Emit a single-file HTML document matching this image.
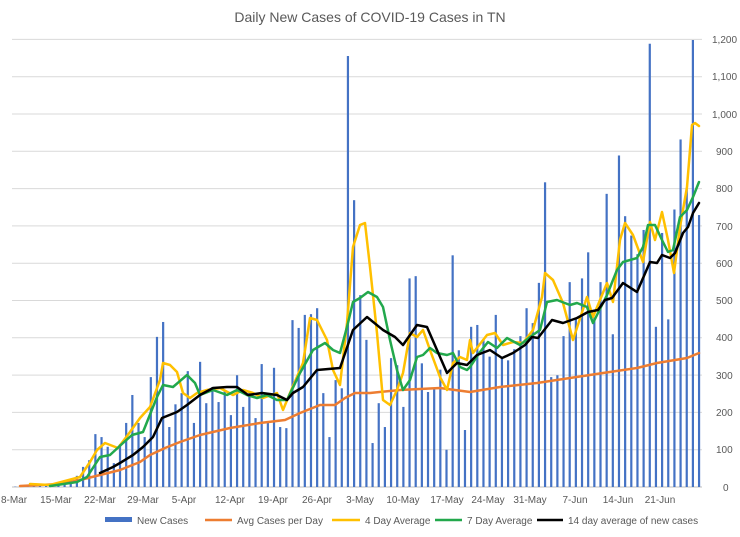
<!DOCTYPE html>
<html><head><meta charset="utf-8"><style>
body{margin:0;background:#fff;}
svg{display:block;font-family:"Liberation Sans",sans-serif;}
</style></head><body>
<svg id="c" width="740" height="537" viewBox="0 0 740 537" xmlns="http://www.w3.org/2000/svg">
<rect width="740" height="537" fill="#fff"/>
<text x="370" y="22" text-anchor="middle" font-size="14" fill="#595959">Daily New Cases of COVID-19 Cases in TN</text>
<g id="grid" stroke="#d9d9d9" stroke-width="1"></g>
<g id="bars" fill="#4472C4"></g>
<g font-size="10" fill="#595959">
<text x="712" y="43">1,200</text><text x="712" y="80">1,100</text><text x="712" y="118">1,000</text>
<text x="716" y="155">900</text><text x="716" y="192">800</text><text x="716" y="230">700</text>
<text x="716" y="267">600</text><text x="716" y="304">500</text><text x="716" y="341">400</text>
<text x="716" y="379">300</text><text x="716" y="416">200</text><text x="716" y="453">100</text>
<text x="723" y="491">0</text>
</g>
<g font-size="10" fill="#595959" text-anchor="middle">
<text x="14" y="503">8-Mar</text><text x="56" y="503">15-Mar</text><text x="100" y="503">22-Mar</text>
<text x="143" y="503">29-Mar</text><text x="184" y="503">5-Apr</text><text x="230" y="503">12-Apr</text>
<text x="273" y="503">19-Apr</text><text x="317" y="503">26-Apr</text><text x="360" y="503">3-May</text>
<text x="403" y="503">10-May</text><text x="447" y="503">17-May</text><text x="488" y="503">24-May</text>
<text x="530" y="503">31-May</text><text x="575" y="503">7-Jun</text><text x="618" y="503">14-Jun</text>
<text x="660" y="503">21-Jun</text>
</g>
<g fill="none" stroke-linejoin="round" stroke-linecap="round">
<polyline stroke="#ED7D31" stroke-width="2.5" points="20,486 60,484 80,480 100,475 120,470 140,462 150,455 165,448 180,442 200,435 230,428 260,423 285,420 300,413 320,405 335,405 345,398 355,393 370,393 400,390 440,388 470,392 500,387 537,383 570,378 603,373 637,368 657,363 687,358 699,353"/>
<polyline stroke="#FFC000" stroke-width="2.5" points="30,484 50,485 80,477 90,462 97,450 105,443 118,448 130,432 140,418 150,407 160,380 163,363 170,365 177,372 183,393 190,398 197,393 207,390 220,388 233,395 243,390 253,393 263,398 277,393 283,410 290,393 303,363 310,318 317,320 327,340 333,370 340,385 347,323 353,247 360,225 365,223 370,267 377,333 383,400 390,405 397,390 403,373 410,333 417,337 423,330 430,350 440,377 447,390 453,363 460,357 467,360 470,340 473,353 487,335 495,333 503,345 513,342 523,343 533,330 542,297 545,273 553,280 563,303 573,340 587,297 593,317 607,283 613,302 620,240 625,223 633,235 643,262 650,222 655,240 662,212 668,240 674,273 680,227 687,187 692,125 695,123 699,126"/>
<polyline stroke="#22A84C" stroke-width="2.5" points="50,486 77,482 87,477 100,457 110,455 123,443 132,435 143,432 157,397 163,385 173,387 187,375 195,383 200,395 213,390 227,395 237,390 247,395 257,398 267,395 277,400 287,400 300,373 313,350 325,343 333,350 340,353 347,327 353,302 360,298 368,292 377,297 383,307 390,340 397,370 403,390 410,380 417,357 423,355 430,348 437,353 447,355 453,353 460,367 467,370 470,367 480,352 488,342 497,348 507,338 520,345 530,337 540,330 547,302 557,300 570,305 577,303 587,307 593,323 607,295 617,270 623,262 637,258 643,247 648,225 655,225 662,240 668,252 673,250 680,217 687,210 693,197 699,182"/>
<polyline stroke="#000" stroke-width="2.5" points="100,473 113,467 120,463 133,455 143,447 153,437 162,418 177,412 187,405 200,395 213,388 227,387 237,387 248,395 262,393 277,395 287,400 293,393 303,387 317,370 340,368 353,330 367,317 383,330 395,337 403,345 417,325 427,327 447,373 457,363 467,365 477,355 490,350 502,358 513,353 525,345 532,337 538,338 552,320 563,323 577,318 588,312 598,310 605,300 612,298 623,283 637,292 650,262 657,263 662,255 670,258 675,253 683,233 688,227 693,213 699,203"/>
</g>
<g font-size="10" fill="#595959">
<rect x="105" y="517" width="27" height="5" fill="#4472C4"/><text x="137" y="524">New Cases</text>
<line x1="205" y1="520" x2="232" y2="520" stroke="#ED7D31" stroke-width="2.5"/><text x="237" y="524">Avg Cases per Day</text>
<line x1="332" y1="520" x2="360" y2="520" stroke="#FFC000" stroke-width="2.5"/><text x="365" y="524">4 Day Average</text>
<line x1="435" y1="520" x2="462" y2="520" stroke="#22A84C" stroke-width="2.5"/><text x="467" y="524">7 Day Average</text>
<line x1="537" y1="520" x2="563" y2="520" stroke="#000" stroke-width="2.5"/><text x="568" y="524">14 day average of new cases</text>
</g>
</svg>
<script>
var NS="http://www.w3.org/2000/svg";
var g=document.getElementById("grid");
for(var k=1;k<=12;k++){var y=487-k*37.3;var l=document.createElementNS(NS,"line");
l.setAttribute("x1",12);l.setAttribute("x2",702);l.setAttribute("y1",y);l.setAttribute("y2",y);g.appendChild(l);}
var base=document.createElementNS(NS,"line");base.setAttribute("x1",12);base.setAttribute("x2",702);base.setAttribute("y1",487);base.setAttribute("y2",487);base.setAttribute("stroke","#bfbfbf");g.appendChild(base);
var v=[1,0,1,2,3,6,3,10,15,20,30,54,72,142,134,108,64,115,172,247,172,134,295,403,443,161,222,252,311,172,336,225,268,228,260,193,300,215,255,185,330,172,320,161,158,448,427,462,464,480,252,134,287,265,1157,770,515,395,118,225,161,346,327,215,560,566,332,255,265,315,100,622,367,153,430,435,395,350,462,345,340,370,405,480,440,548,818,295,300,405,550,455,560,630,455,550,787,410,890,727,675,625,690,1190,430,682,450,745,933,800,1200,730];
var b=document.getElementById("bars");
for(var i=0;i<v.length;i++){var h=v[i]*0.3725;var r=document.createElementNS(NS,"rect");
r.setAttribute("x",(15.2+6.16*i-1).toFixed(2));r.setAttribute("y",(487-h).toFixed(2));r.setAttribute("width",2.2);r.setAttribute("height",h.toFixed(2));b.appendChild(r);}
</script>
</body></html>
